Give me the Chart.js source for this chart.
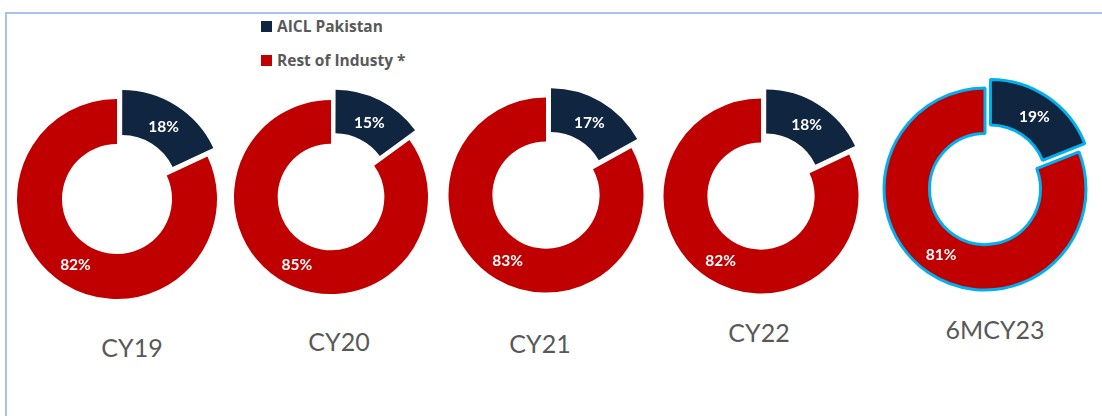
<!DOCTYPE html>
<html>
<head>
<meta charset="utf-8">
<script src="https://cdn.jsdelivr.net/npm/chart.js@4/dist/chart.umd.min.js"></script>
<style>
  html, body { margin: 0; padding: 0; background: #ffffff; }
  #stage { position: relative; width: 1102px; height: 416px; overflow: hidden; background: #ffffff; font-family: Lato, "Open Sans", sans-serif; }
  #frame { position: absolute; left: 5px; top: 12px; right: -10px; bottom: -10px; border-top: 2px solid #A7C3E7; border-left: 2px solid #A7C3E7; }
  .cv { position: absolute; }
  .cat { position: absolute; font-size: 25px; color: #595959; transform: translateX(-50%); white-space: nowrap; line-height: 1; }
  .leg { position: absolute; left: 261px; font-family: "Open Sans", Lato, sans-serif; font-size: 15.5px; font-weight: 700; color: #595959; white-space: nowrap; line-height: 1; }
  .leg i { display: inline-block; width: 11px; height: 11px; margin-right: 5px; vertical-align: 0px; }
</style>
</head>
<body>
<div id="stage">
  <div id="frame"></div>
</div>
<script>
// ---- data ----
const categories = ["CY19", "CY20", "CY21", "CY22", "6MCY23"];
const seriesNames = ["AICL Pakistan", "Rest of Industy *"];
const aiclShare = [18, 15, 17, 18, 19];
const restShare = [82, 85, 83, 82, 81];

// ---- layout / style (not data) ----
const colors = ["#10253F", "#C00000"];
const highlightBorder = "#00B0F0";
const centers = [[117, 199], [331, 197], [546, 195], [761, 196], [985, 189]];
const radii = [100, 97, 97.5, 97.5, 101];
const labelPos = [[132, 358], [339, 352], [540, 354], [759, 343], [995, 340]];
const SIZE = 240;

const stage = document.getElementById('stage');

// legend (HTML text)
const legTops = [19, 53];
seriesNames.forEach((n, i) => {
  const d = document.createElement('div');
  d.className = 'leg';
  d.style.top = legTops[i] + 'px';
  const sw = document.createElement('i');
  sw.style.background = colors[i];
  d.appendChild(sw);
  d.appendChild(document.createTextNode(n));
  stage.appendChild(d);
});

// category labels
categories.forEach((c, i) => {
  const d = document.createElement('div');
  d.className = 'cat';
  d.textContent = c;
  d.style.left = labelPos[i][0] + 'px';
  d.style.top = (labelPos[i][1] - 23) + 'px';
  stage.appendChild(d);
});

// plugin drawing percentage labels in the middle of each arc
const arcLabels = {
  id: 'arcLabels',
  afterDatasetsDraw(chart) {
    const ctx = chart.ctx;
    const ds = chart.data.datasets[0];
    const meta = chart.getDatasetMeta(0);
    ctx.save();
    ctx.font = 'bold 15.5px Lato, "Open Sans", sans-serif';
    ctx.fillStyle = '#ffffff';
    ctx.textAlign = 'center';
    ctx.textBaseline = 'middle';
    meta.data.forEach((arc, j) => {
      const p = arc.getProps(['x', 'y', 'startAngle', 'endAngle', 'innerRadius', 'outerRadius']);
      const mid = (p.startAngle + p.endAngle) / 2;
      const off = (arc.options.offset || 0) / 4;
      const r = (p.innerRadius + p.outerRadius) / 2 + off;
      ctx.fillText(ds.data[j] + '%', p.x + Math.cos(mid) * r, p.y + Math.sin(mid) * r + 1);
    });
    ctx.restore();
  }
};

categories.forEach((cat, i) => {
  const cv = document.createElement('canvas');
  cv.className = 'cv';
  cv.width = SIZE; cv.height = SIZE;
  cv.style.width = SIZE + 'px'; cv.style.height = SIZE + 'px';
  cv.style.left = (centers[i][0] - SIZE / 2) + 'px';
  cv.style.top = (centers[i][1] - SIZE / 2) + 'px';
  stage.appendChild(cv);
  const last = i === categories.length - 1;
  new Chart(cv, {
    type: 'doughnut',
    data: {
      labels: seriesNames,
      datasets: [{
        data: [aiclShare[i], restShare[i]],
        backgroundColor: colors,
        borderColor: last ? highlightBorder : '#ffffff',
        borderWidth: last ? 3 : 0,
        offset: [38, 0],
        radius: radii[i],
        cutout: '55%'
      }]
    },
    options: {
      responsive: false,
      animation: false,
      layout: { padding: 0 },
      plugins: { legend: { display: false }, tooltip: { enabled: false }, title: { display: false } }
    },
    plugins: [arcLabels]
  });
});
</script>
</body>
</html>
